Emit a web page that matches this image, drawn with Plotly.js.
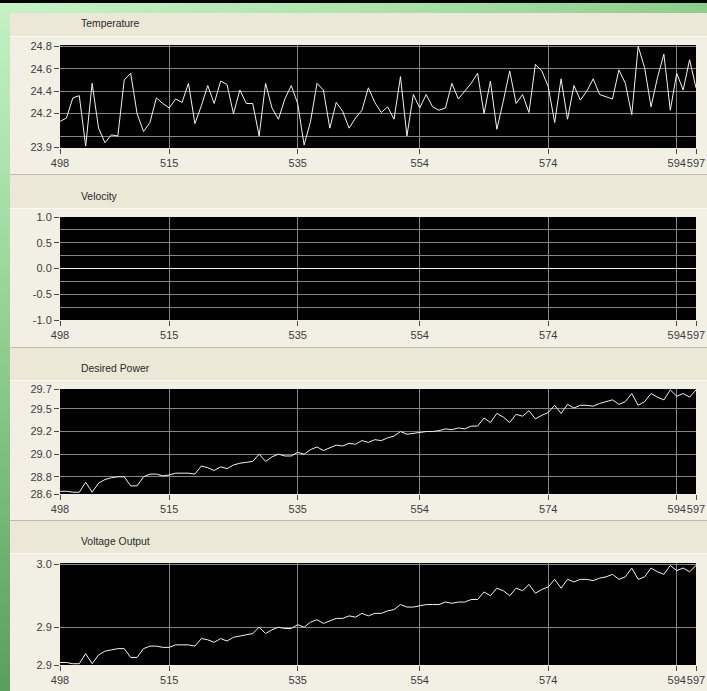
<!DOCTYPE html>
<html>
<head>
<meta charset="utf-8">
<script src="https://cdn.plot.ly/plotly-3.0.1.min.js"></script>
<style>
  html, body { margin:0; padding:0; width:707px; height:691px; overflow:hidden; background:#8fd08f; }
  .bg { position:absolute; }
  #chart { position:absolute; left:0; top:0; width:707px; height:691px; }
</style>
</head>
<body>
<div class="bg" style="left:0;top:0;width:707px;height:691px;background:linear-gradient(to bottom,#c4f2c4 0%,#9ad89a 40%,#5a9f5a 100%);"></div>
<div class="bg" style="left:0;top:0;width:707px;height:13px;background:linear-gradient(to right,#c6f3c6 0%,#aee4ae 50%,#8ccd8c 100%);"></div>
<div class="bg" style="left:0;top:0;width:707px;height:3px;background:#050505;"></div>
<div class="bg" style="left:10px;top:13px;width:697px;height:678px;background:#f2f0e5;"></div>
<div class="bg" style="left:10px;top:13px;width:697px;height:23px;background:#ebe8d7;border-bottom:1px solid #faf9f2;"></div>
<div class="bg" style="left:10px;top:174px;width:697px;height:1px;background:#bfbcab;"></div>
<div class="bg" style="left:10px;top:175px;width:697px;height:33px;background:#ebe8d7;border-bottom:1px solid #faf9f2;"></div>
<div class="bg" style="left:10px;top:347px;width:697px;height:1px;background:#bfbcab;"></div>
<div class="bg" style="left:10px;top:348px;width:697px;height:32px;background:#ebe8d7;border-bottom:1px solid #faf9f2;"></div>
<div class="bg" style="left:10px;top:520px;width:697px;height:1px;background:#bfbcab;"></div>
<div class="bg" style="left:10px;top:521px;width:697px;height:32px;background:#ebe8d7;border-bottom:1px solid #faf9f2;"></div>
<div id="chart"></div>
<script>
// ---- data ----
const time = [
  498,499,500,501,502,503,504,505,506,507,508,509,510,511,512,513,514,515,516,517,
  518,519,520,521,522,523,524,525,526,527,528,529,530,531,532,533,534,535,536,537,
  538,539,540,541,542,543,544,545,546,547,548,549,550,551,552,553,554,555,556,557,
  558,559,560,561,562,563,564,565,566,567,568,569,570,571,572,573,574,575,576,577,
  578,579,580,581,582,583,584,585,586,587,588,589,590,591,592,593,594,595,596,597
];
const temperature = [
  24.13,24.16,24.34,24.36,23.91,24.47,24.07,23.94,24.01,24.00,24.50,24.56,24.20,24.04,24.12,24.34,24.29,24.25,24.33,24.30,
  24.47,24.11,24.27,24.45,24.29,24.49,24.46,24.20,24.41,24.29,24.29,24.00,24.47,24.25,24.15,24.33,24.45,24.29,23.92,24.13,
  24.47,24.41,24.07,24.30,24.22,24.07,24.16,24.23,24.43,24.30,24.21,24.26,24.15,24.53,24.00,24.37,24.25,24.37,24.26,24.23,
  24.25,24.47,24.33,24.40,24.47,24.56,24.20,24.49,24.06,24.31,24.58,24.29,24.37,24.21,24.64,24.58,24.44,24.12,24.51,24.15,
  24.45,24.32,24.40,24.51,24.37,24.35,24.33,24.59,24.47,24.19,24.80,24.61,24.26,24.52,24.73,24.23,24.56,24.41,24.68,24.43
];
const velocity = [
  0,0,0,0,0,0,0,0,0,0,0,0,0,0,0,0,0,0,0,0,
  0,0,0,0,0,0,0,0,0,0,0,0,0,0,0,0,0,0,0,0,
  0,0,0,0,0,0,0,0,0,0,0,0,0,0,0,0,0,0,0,0,
  0,0,0,0,0,0,0,0,0,0,0,0,0,0,0,0,0,0,0,0,
  0,0,0,0,0,0,0,0,0,0,0,0,0,0,0,0,0,0,0,0
];
const desiredPower = [
  28.59,28.59,28.58,28.58,28.69,28.58,28.68,28.72,28.74,28.75,28.75,28.65,28.65,28.75,28.78,28.78,28.76,28.77,28.79,28.79,
  28.79,28.78,28.87,28.85,28.82,28.86,28.84,28.88,28.90,28.91,28.92,29.00,28.92,28.97,29.00,28.98,28.98,29.02,29.00,29.05,
  29.08,29.04,29.07,29.10,29.09,29.12,29.11,29.15,29.13,29.16,29.15,29.18,29.20,29.25,29.22,29.23,29.24,29.25,29.25,29.26,
  29.28,29.27,29.29,29.28,29.31,29.31,29.40,29.35,29.45,29.41,29.35,29.44,29.42,29.48,29.39,29.43,29.46,29.54,29.45,29.55,
  29.51,29.54,29.54,29.53,29.56,29.58,29.60,29.55,29.58,29.67,29.54,29.58,29.67,29.63,29.60,29.71,29.64,29.67,29.63,29.71
];
const voltageOutput = [
  2.922,2.922,2.921,2.921,2.929,2.921,2.928,2.931,2.932,2.933,2.933,2.926,2.926,2.933,2.935,2.935,2.934,2.934,2.936,2.936,
  2.936,2.935,2.941,2.940,2.938,2.941,2.939,2.942,2.943,2.944,2.945,2.950,2.945,2.948,2.950,2.949,2.949,2.952,2.950,2.954,
  2.956,2.953,2.955,2.957,2.957,2.959,2.958,2.961,2.959,2.961,2.961,2.963,2.964,2.968,2.966,2.966,2.967,2.968,2.968,2.968,
  2.970,2.969,2.970,2.970,2.972,2.972,2.978,2.975,2.981,2.979,2.975,2.981,2.979,2.984,2.977,2.980,2.982,2.988,2.981,2.988,
  2.986,2.988,2.988,2.987,2.989,2.990,2.992,2.988,2.990,2.997,2.988,2.990,2.997,2.994,2.992,2.999,2.995,2.997,2.994,2.999
];
const panelTitles = ['Temperature', 'Velocity', 'Desired Power', 'Voltage Output'];
const xTickVals = [498, 515, 535, 554, 574, 594, 597];

const tempTickVals = [23.9, 24.2, 24.4, 24.6, 24.8];
const tempTickText = ['23.9', '24.2', '24.4', '24.6', '24.8'];
const tempGrid = [24.0, 24.2, 24.4, 24.6, 24.8];

const velTickVals = [-1, -0.5, 0, 0.5, 1];
const velTickText = ['-1.0', '-0.5', '0.0', '0.5', '1.0'];
const velGrid = [-0.75, -0.5, -0.25, 0, 0.25, 0.5, 0.75, 1.0];

const powTickVals = [28.56, 28.75, 29.0, 29.25, 29.5, 29.72];
const powTickText = ['28.6', '28.8', '29.0', '29.2', '29.5', '29.7'];
const powGrid = [28.75, 29.0, 29.25, 29.5];

const voltTickVals = [2.92, 2.95, 3.0];
const voltTickText = ['2.9', '2.9', '3.0'];
const voltGrid = [2.95, 3.0];

// ---- layout helpers ----
const W = 707, H = 691;
const plotLeft = 60, plotRight = 696;
const panelBox = [ {top:45, bottom:148}, {top:217, bottom:320}, {top:389, bottom:494}, {top:563, bottom:665} ];
const titleY = [24, 196, 368, 541];
const yRanges = [[23.893, 24.812], [-1, 1], [28.56, 29.72], [2.92, 3.001]];
const yTicks = [
  [tempTickVals, tempTickText, tempGrid],
  [velTickVals, velTickText, velGrid],
  [powTickVals, powTickText, powGrid],
  [voltTickVals, voltTickText, voltGrid]
];
const series = [temperature, velocity, desiredPower, voltageOutput];

const tickFont = {family: 'Liberation Sans, Arial, sans-serif', size: 11, color: '#3c3c3c'};
const gridColor = '#858585';

const layout = {
  width: W, height: H, autosize: false,
  margin: {l:0, r:0, t:0, b:0, pad:0},
  paper_bgcolor: 'rgba(0,0,0,0)',
  plot_bgcolor: '#000000',
  showlegend: false,
  hovermode: false,
  annotations: []
};
const data = [];

for (let i = 0; i < 4; i++) {
  const sfx = i === 0 ? '' : String(i + 1);
  const b = panelBox[i];
  layout['xaxis' + sfx] = {
    domain: [plotLeft / W, plotRight / W],
    range: [498, 597],
    anchor: 'y' + sfx,
    tickmode: 'array', tickvals: xTickVals, tickangle: 0,
    ticks: 'outside', ticklen: 5, tickwidth: 1, tickcolor: '#4a4a4a',
    showgrid: true, gridcolor: gridColor, gridwidth: 1,
    zeroline: false, showline: false,
    tickfont: tickFont, fixedrange: true
  };
  layout['yaxis' + sfx] = {
    domain: [1 - b.bottom / H, 1 - b.top / H],
    range: yRanges[i],
    anchor: 'x' + sfx,
    tickmode: 'array', tickvals: yTicks[i][0], ticktext: yTicks[i][1],
    ticks: 'outside', ticklen: 5, tickwidth: 1, tickcolor: '#4a4a4a',
    showgrid: false, zeroline: false, showline: false,
    minor: {tickmode: 'array', tickvals: yTicks[i][2], showgrid: true, gridcolor: gridColor, gridwidth: 1, ticks: ''},
    tickfont: tickFont, fixedrange: true
  };
  data.push({
    x: time, y: series[i],
    xaxis: 'x' + sfx, yaxis: 'y' + sfx,
    type: 'scatter', mode: 'lines',
    line: {color: '#f2f2f2', width: 1},
    hoverinfo: 'skip'
  });
  layout.annotations.push({
    text: panelTitles[i], xref: 'paper', yref: 'paper',
    x: 79 / W, y: 1 - titleY[i] / H, xanchor: 'left', yanchor: 'middle',
    showarrow: false,
    font: {family: 'Liberation Sans, Arial, sans-serif', size: 10.4, color: '#2a2a2a'}
  });
}

Plotly.newPlot('chart', data, layout, {staticPlot: true, displayModeBar: false});
</script>
</body>
</html>
